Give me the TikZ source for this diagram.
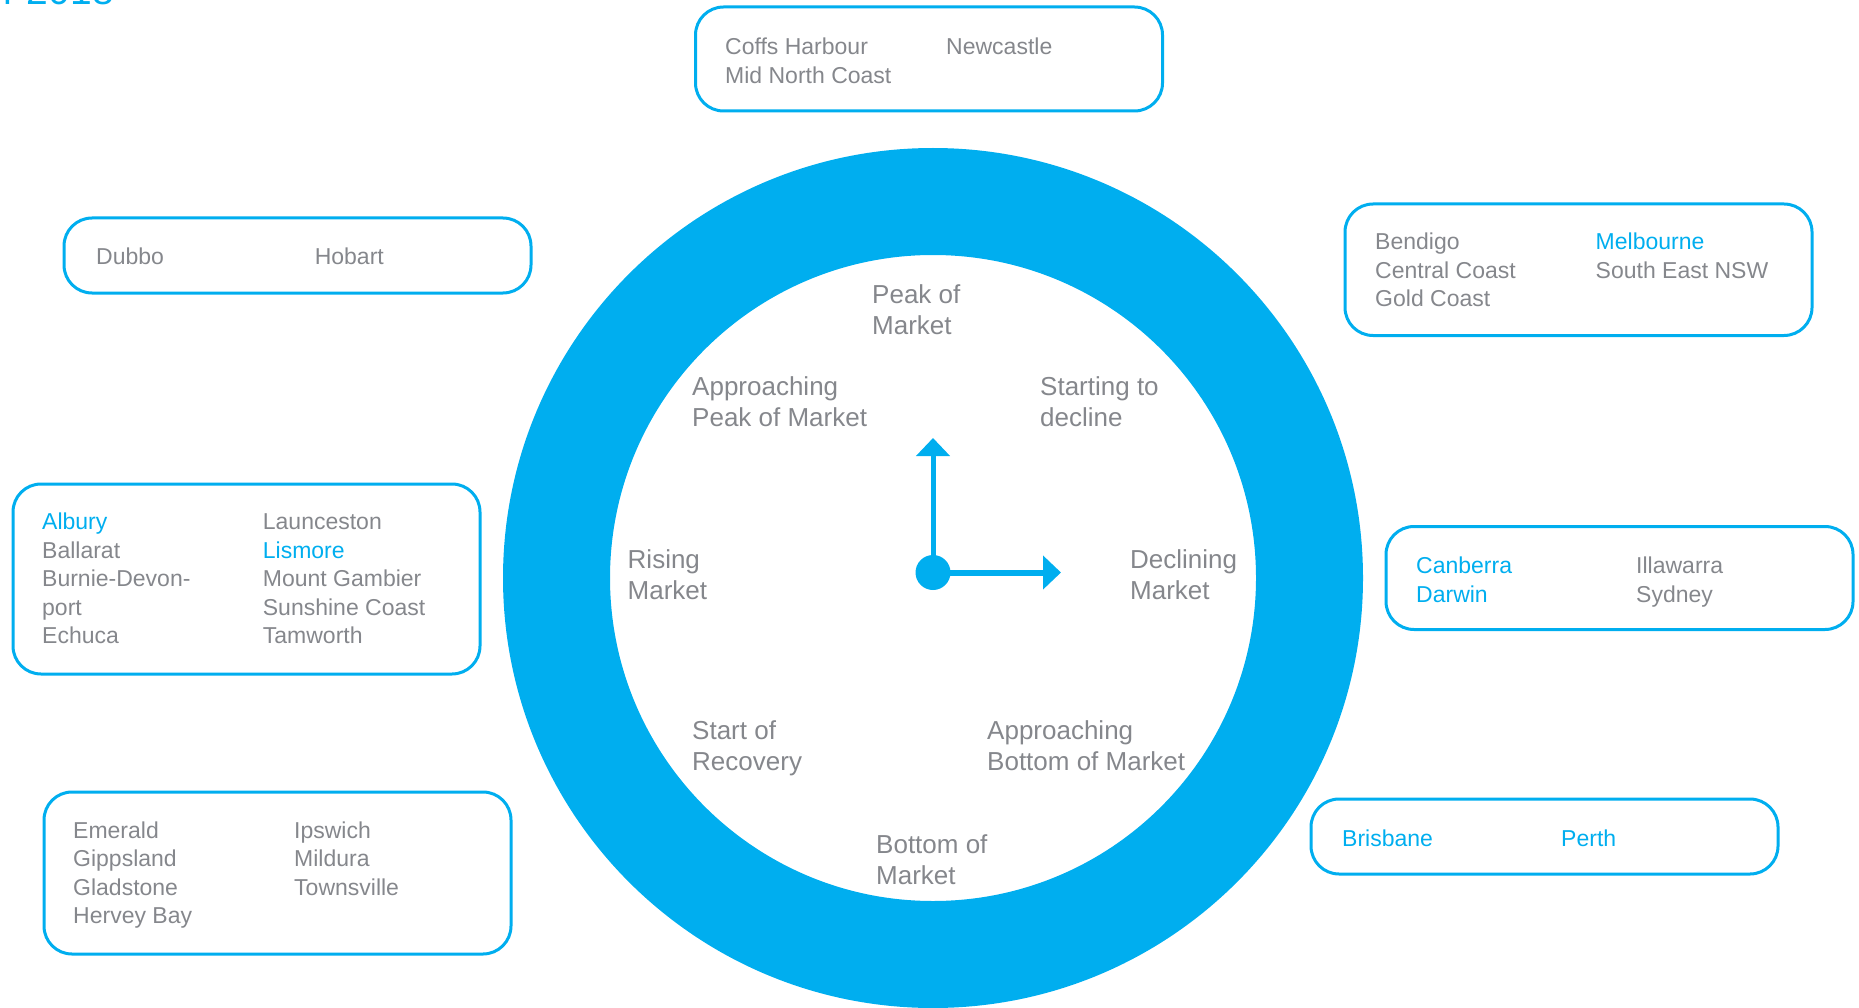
\documentclass[tikz,border=0pt]{standalone}
\usepackage{fontspec}
\setmainfont{Liberation Sans}
\usetikzlibrary{arrows.meta}

\definecolor{clockblue}{RGB}{0,174,239}
\definecolor{labelgray}{RGB}{133,135,140}

% multi-line nodes sit on the baseline of their last line
\tikzset{
  regionbox/.style={draw=clockblue, line width=3pt, rounded corners=28pt,
    minimum width=467pt, inner sep=0pt},
  place/.style={anchor=base west, inner sep=0pt, align=left, text=labelgray,
    font=\fontsize{23}{28.4}\selectfont},
  hot/.style={text=clockblue},
  phase/.style={anchor=base west, inner sep=0pt, align=left, text=labelgray,
    font=\fontsize{26}{31}\selectfont},
  hand/.style={draw=clockblue, -{Triangle[length=18pt,width=33pt]}},
}

\begin{document}
\begin{tikzpicture}[x=1pt, y=-1pt]
\useasboundingbox (0,0) rectangle (1859,1008);

% heading, mostly above the page edge
\node[anchor=base west, inner sep=0pt, text=clockblue,
  font=\fontsize{39}{44}\selectfont] (heading) at (3,4.5) {r 2018};

% the clock ring
\fill[clockblue, even odd rule] (933,578) circle[radius=430pt]
  (933,578) circle[radius=323pt];

% clock hands
\node[circle, fill=clockblue, minimum size=35pt, inner sep=0pt] (hub) at (933,572.5) {};
\coordinate (noon) at (933,438);
\coordinate (three) at (1061,572.5);
\draw[hand, line width=5pt] (hub.center) -- (noon);
\draw[hand, line width=6pt] (hub.center) -- (three);

% phases of the market
\node[phase] (peak)      at (872,334)   {Peak of\\Market};
\node[phase] (apppeak)   at (692,426.5) {Approaching\\Peak of Market};
\node[phase] (startdec)  at (1040,426.5) {Starting to\\decline};
\node[phase] (rising)    at (627.5,599.6) {Rising\\Market};
\node[phase] (declining) at (1130,599.6) {Declining\\Market};
\node[phase] (startrec)  at (692,770.3) {Start of\\Recovery};
\node[phase] (appbot)    at (987,770.3) {Approaching\\Bottom of Market};
\node[phase] (bottom)    at (876,884)   {Bottom of\\Market};

% region boxes
\node[regionbox, minimum height=104pt] (boxpeak) at (929,59) {};
\node[place] (coffs) at (725,83.4) {Coffs Harbour\\Mid North Coast};
\node[place] (newc) at (946,55) {Newcastle};

\node[regionbox, minimum height=75pt] (boxapppeak) at (297.5,255.5) {};
\node[place] (dubbo) at (96,264.7) {Dubbo};
\node[place] (hobart) at (314.6,264.7) {Hobart};

\node[regionbox, minimum height=190pt] (boxrising) at (246.5,579) {};
\node[place] (risea) at (42,643.5) {\textcolor{clockblue}{Albury}\\Ballarat\\Burnie-Devon-\\port\\Echuca};
\node[place] (riseb) at (262.7,643.5) {Launceston\\\textcolor{clockblue}{Lismore}\\Mount Gambier\\Sunshine Coast\\Tamworth};

\node[regionbox, minimum height=162pt] (boxstartrec) at (277.5,873) {};
\node[place] (reca) at (73,923.5) {Emerald\\Gippsland\\Gladstone\\Hervey Bay};
\node[place] (recb) at (294,895) {Ipswich\\Mildura\\Townsville};

\node[regionbox, minimum height=131.5pt] (boxstartdec) at (1578.5,269.75) {};
\node[place] (deca) at (1375,306.6) {Bendigo\\Central Coast\\Gold Coast};
\node[place] (decb) at (1595.5,278) {\textcolor{clockblue}{Melbourne}\\South East NSW};

\node[regionbox, minimum height=103pt] (boxdeclining) at (1619.5,578) {};
\node[place, hot] (dcla) at (1416,602.3) {Canberra\\Darwin};
\node[place] (dclb) at (1636,602.3) {Illawarra\\Sydney};

\node[regionbox, minimum height=75pt] (boxappbot) at (1544.5,836.5) {};
\node[place, hot] (brisbane) at (1342,846.7) {Brisbane};
\node[place, hot] (perth) at (1561,846.7) {Perth};
\end{tikzpicture}
\end{document}
